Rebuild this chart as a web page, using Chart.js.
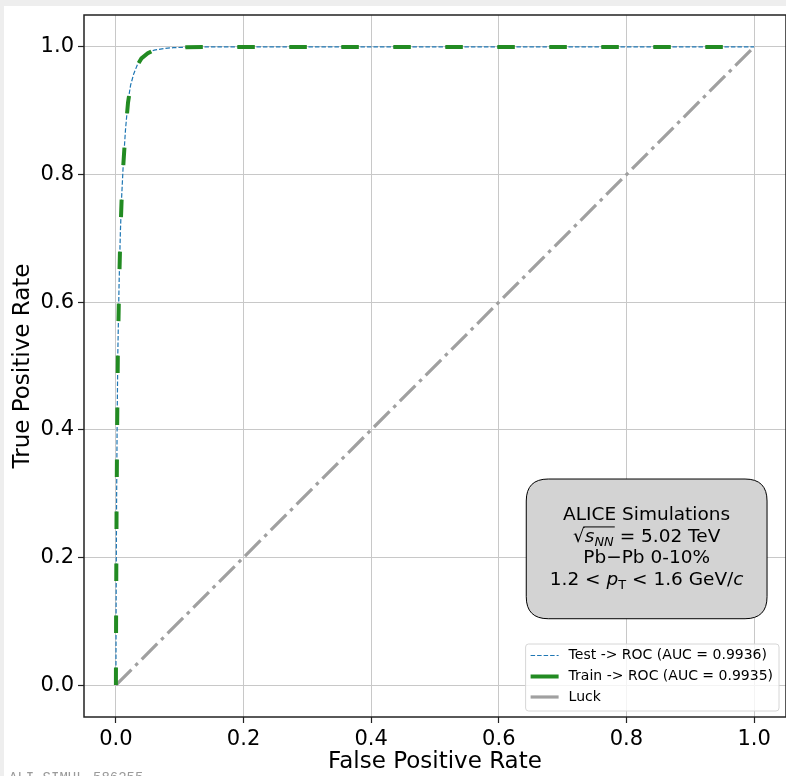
<!DOCTYPE html>
<html>
<head>
<meta charset="utf-8">
<script src="https://cdn.jsdelivr.net/npm/chart.js@4.4.0/dist/chart.umd.min.js"></script>
<style>
html, body { margin: 0; padding: 0; background: #eeeeee; }
#wrap { position: absolute; left: 4px; top: 6px; width: 782px; height: 770px; background: #ffffff; overflow: hidden; }
</style>
</head>
<body>
<div id="wrap"><canvas id="roc" width="782" height="770"></canvas></div>
<script>
// ROC curves
var testFpr  = [0, 0.0003, 0.001, 0.002, 0.003, 0.005, 0.007, 0.009, 0.0115, 0.015, 0.019, 0.023, 0.028, 0.034, 0.04, 0.05, 0.06, 0.075, 0.09, 0.11, 0.14, 0.2, 0.4, 0.6, 0.8, 1.0];
var testTpr  = [0, 0.12, 0.28, 0.42, 0.52, 0.63, 0.71, 0.765, 0.816, 0.87, 0.915, 0.94, 0.958, 0.973, 0.983, 0.991, 0.995, 0.9975, 0.9988, 0.9995, 0.9999, 1, 1, 1, 1, 1];
var trainFpr = [0, 0.0003, 0.001, 0.002, 0.003, 0.005, 0.007, 0.009, 0.0115, 0.015, 0.019, 0.023, 0.028, 0.034, 0.04, 0.05, 0.06, 0.075, 0.09, 0.11, 0.14, 0.2, 0.4, 0.6, 0.8, 1.0];
var trainTpr = [0, 0.11, 0.27, 0.41, 0.515, 0.625, 0.705, 0.762, 0.813, 0.868, 0.913, 0.939, 0.957, 0.972, 0.982, 0.99, 0.995, 0.9974, 0.9987, 0.9995, 0.9999, 1, 1, 1, 1, 1];
var luckFpr  = [0, 1];
var luckTpr  = [0, 1];

var seriesLabels = ['Test -> ROC (AUC = 0.9936)', 'Train -> ROC (AUC = 0.9935)', 'Luck'];

var xTicks = [0, 0.2, 0.4, 0.6, 0.8, 1.0];
var yTicks = [0, 0.2, 0.4, 0.6, 0.8, 1.0];
var xTickLabels = ['0.0', '0.2', '0.4', '0.6', '0.8', '1.0'];
var yTickLabels = ['0.0', '0.2', '0.4', '0.6', '0.8', '1.0'];

// text box runs (it = italic, sub = subscript, bar = under the radical)
var infoLines = [
  [{t: 'ALICE Simulations'}],
  [{t: '\u221A'}, {t: 's', it: true, bar: true}, {t: 'NN', it: true, sub: true, bar: true}, {t: ' = 5.02 TeV'}],
  [{t: 'Pb\u2212Pb 0-10%'}],
  [{t: '1.2 < '}, {t: 'p', it: true}, {t: 'T', sub: true}, {t: ' < 1.6 GeV/'}, {t: 'c', it: true}]
];

function pts(xs, ys) {
  return xs.map(function (x, i) { return {x: x, y: ys[i]}; });
}

var FONT = "'DejaVu Sans', 'Liberation Sans', sans-serif";
Chart.defaults.font.family = FONT;
Chart.defaults.color = '#000';

function roundRect(ctx, x, y, w, h, r) {
  ctx.beginPath();
  ctx.moveTo(x + r, y);
  ctx.lineTo(x + w - r, y);
  ctx.quadraticCurveTo(x + w, y, x + w, y + r);
  ctx.lineTo(x + w, y + h - r);
  ctx.quadraticCurveTo(x + w, y + h, x + w - r, y + h);
  ctx.lineTo(x + r, y + h);
  ctx.quadraticCurveTo(x, y + h, x, y + h - r);
  ctx.lineTo(x, y + r);
  ctx.quadraticCurveTo(x, y, x + r, y);
  ctx.closePath();
}

var framePlugin = {
  id: 'frame',
  afterDatasetsDraw: function (chart) {
    var a = chart.chartArea, ctx = chart.ctx;
    ctx.save();
    ctx.strokeStyle = '#222';
    ctx.lineWidth = 1.5;
    ctx.strokeRect(a.left, a.top, a.right - a.left, a.bottom - a.top);
    ctx.restore();
  }
};

var infoPlugin = {
  id: 'infobox',
  afterDatasetsDraw: function (chart) {
    var a = chart.chartArea, ctx = chart.ctx;
    var w = a.right - a.left, h = a.bottom - a.top;
    var bx = a.left + 0.630 * w, by = a.top + 0.661 * h;
    var bw = 0.343 * w, bh = 0.199 * h;
    ctx.save();
    roundRect(ctx, bx, by, bw, bh, 22);
    ctx.fillStyle = '#d3d3d3';
    ctx.fill();
    ctx.strokeStyle = '#000';
    ctx.lineWidth = 1;
    ctx.stroke();

    var fs = 18.5, cx = bx + bw / 2;
    var baseY = by + 41, step = 21.7;
    ctx.fillStyle = '#000';
    ctx.textBaseline = 'alphabetic';
    ctx.textAlign = 'left';
    infoLines.forEach(function (runs, li) {
      var y = baseY + li * step;
      var widths = runs.map(function (r) {
        var size = r.sub ? fs * 0.7 : fs;
        ctx.font = (r.it ? 'italic ' : '') + size + 'px ' + FONT;
        return ctx.measureText(r.t).width;
      });
      var total = widths.reduce(function (s, v) { return s + v; }, 0);
      var x = cx - total / 2;
      var barStart = null, barEnd = null;
      runs.forEach(function (r, i) {
        var size = r.sub ? fs * 0.7 : fs;
        ctx.font = (r.it ? 'italic ' : '') + size + 'px ' + FONT;
        ctx.fillText(r.t, x, r.sub ? y + fs * 0.22 : y);
        if (r.bar) {
          if (barStart === null) barStart = x;
          barEnd = x + widths[i];
        }
        x += widths[i];
      });
      if (barStart !== null) {
        ctx.beginPath();
        ctx.lineWidth = 1;
        ctx.moveTo(barStart - 1.5, y - fs * 0.8);
        ctx.lineTo(barEnd + 1, y - fs * 0.8);
        ctx.stroke();
      }
    });
    ctx.restore();
  }
};

var legendPlugin = {
  id: 'innerLegend',
  afterDraw: function (chart) {
    var a = chart.chartArea, ctx = chart.ctx;
    var ds = chart.data.datasets;
    ctx.save();
    ctx.font = '14px ' + FONT;
    var tw = 0;
    ds.forEach(function (d) { tw = Math.max(tw, ctx.measureText(d.label).width); });
    var lw = 43 + tw + 6, lh = 67;
    var lx = a.right - 7 - lw, ly = a.bottom - 6 - lh;
    roundRect(ctx, lx, ly, lw, lh, 3);
    ctx.fillStyle = 'rgba(255,255,255,0.8)';
    ctx.fill();
    ctx.strokeStyle = '#d6d6d6';
    ctx.lineWidth = 1;
    ctx.stroke();
    var rows = [11.5, 32.5, 53];
    ds.forEach(function (d, i) {
      var y = ly + rows[i];
      ctx.beginPath();
      ctx.strokeStyle = d.borderColor;
      ctx.lineWidth = d.borderWidth;
      ctx.setLineDash(i === 0 ? d.borderDash : []);
      ctx.moveTo(lx + 5, y);
      ctx.lineTo(lx + 33, y);
      ctx.stroke();
      ctx.setLineDash([]);
      ctx.fillStyle = '#000';
      ctx.textBaseline = 'middle';
      ctx.fillText(d.label, lx + 43, y);
    });
    ctx.restore();
  }
};

var watermarkPlugin = {
  id: 'watermark',
  afterDraw: function (chart) {
    var ctx = chart.ctx;
    ctx.save();
    ctx.font = "14px 'Liberation Mono', 'DejaVu Sans Mono', monospace";
    ctx.fillStyle = '#9a9a9a';
    ctx.textBaseline = 'alphabetic';
    ctx.fillText('ALI-SIMUL-586255', 5, 776);
    ctx.restore();
  }
};

function axis(ticksArr, labelsArr, title, isX) {
  return {
    type: 'linear',
    min: -0.05,
    max: 1.05,
    afterBuildTicks: function (s) {
      s.ticks = ticksArr.map(function (v) { return {value: v}; });
    },
    afterFit: function (s) {
      if (isX) s.height = 59; else s.width = 80;
      s.paddingTop = 0;
      s.paddingBottom = 0;
      s.paddingLeft = 0;
      s.paddingRight = 0;
    },
    ticks: {
      autoSkip: false,
      maxRotation: 0,
      padding: 4,
      font: {size: 21},
      color: '#000',
      callback: function (v) {
        var i = ticksArr.indexOf(v);
        return i >= 0 ? labelsArr[i] : '';
      }
    },
    grid: {
      color: '#c8c8c8',
      lineWidth: 1,
      tickColor: '#222',
      tickWidth: 1.2,
      tickLength: 6
    },
    border: {display: false},
    title: {
      display: true,
      text: title,
      font: {size: 23},
      color: '#000',
      padding: isX ? {top: 0, bottom: 0} : {top: 5, bottom: 0}
    }
  };
}

new Chart(document.getElementById('roc'), {
  type: 'scatter',
  data: {
    datasets: [
      {
        label: seriesLabels[0],
        data: pts(testFpr, testTpr),
        showLine: true,
        borderColor: '#1f77b4',
        borderWidth: 1.2,
        borderDash: [4.5, 2],
        pointRadius: 0,
        order: 1
      },
      {
        label: seriesLabels[1],
        data: pts(trainFpr, trainTpr),
        showLine: true,
        borderColor: '#228b22',
        borderWidth: 4,
        borderDash: [17.5, 34.5],
        pointRadius: 0,
        order: 0
      },
      {
        label: seriesLabels[2],
        data: pts(luckFpr, luckTpr),
        showLine: true,
        borderColor: '#a0a0a0',
        borderWidth: 3.2,
        borderDash: [22, 5.5, 3.5, 5.5],
        pointRadius: 0,
        order: 2
      }
    ]
  },
  options: {
    responsive: false,
    animation: false,
    devicePixelRatio: 1,
    layout: {padding: {top: 9, right: 0, bottom: 0, left: 0}},
    plugins: {
      legend: {display: false},
      tooltip: {enabled: false}
    },
    scales: {
      x: axis(xTicks, xTickLabels, 'False Positive Rate', true),
      y: axis(yTicks, yTickLabels, 'True Positive Rate', false)
    }
  },
  plugins: [framePlugin, infoPlugin, legendPlugin, watermarkPlugin]
});
</script>
</body>
</html>
